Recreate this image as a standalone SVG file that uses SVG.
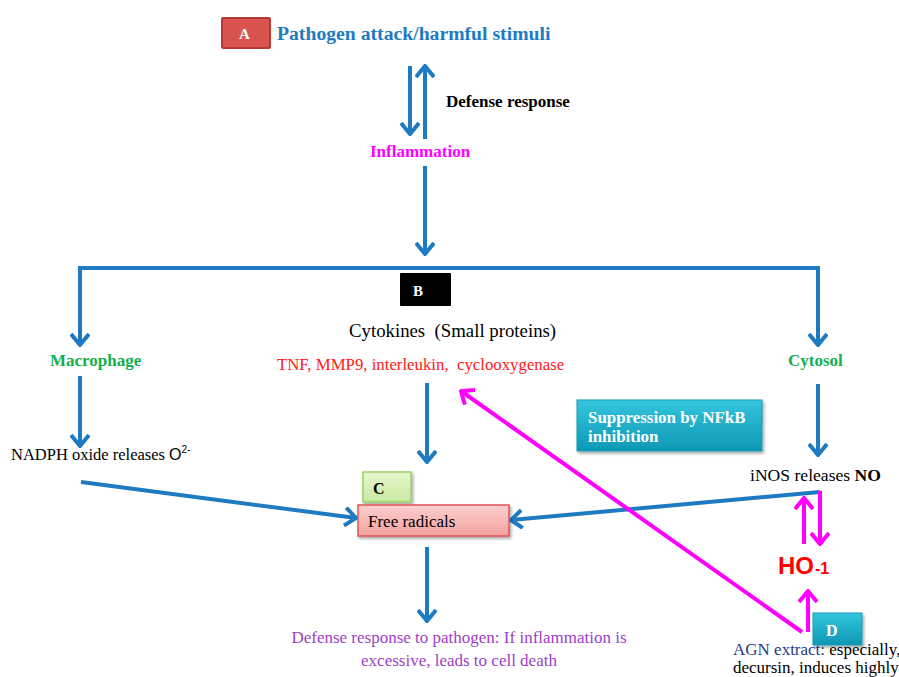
<svg xmlns="http://www.w3.org/2000/svg" width="899" height="677" viewBox="0 0 899 677">
<defs>
<style>
.blue{stroke:#1f7bc1;stroke-width:4;fill:none;}
.mag{stroke:#ff00ff;stroke-width:4;fill:none;}
</style>
<marker id="ab" viewBox="0 0 14 20" refX="12" refY="10" markerWidth="14" markerHeight="20" markerUnits="userSpaceOnUse" orient="auto">
<path d="M1,1 L12,10 L1,19" fill="none" stroke="#1f7bc1" stroke-width="4" stroke-linejoin="miter"/>
</marker>
<marker id="am" viewBox="0 0 14 20" refX="12" refY="10" markerWidth="14" markerHeight="20" markerUnits="userSpaceOnUse" orient="auto">
<path d="M1,1 L12,10 L1,19" fill="none" stroke="#ff00ff" stroke-width="4" stroke-linejoin="miter"/>
</marker>
<linearGradient id="teal" x1="0" y1="0" x2="0" y2="1">
<stop offset="0" stop-color="#35c6de"/>
<stop offset="1" stop-color="#0d97b3"/>
</linearGradient>
<linearGradient id="pink" x1="0" y1="0" x2="0" y2="1">
<stop offset="0" stop-color="#fbd0cf"/>
<stop offset="1" stop-color="#f3a19f"/>
</linearGradient>
<linearGradient id="green" x1="0" y1="0" x2="0" y2="1">
<stop offset="0" stop-color="#e6f6cd"/>
<stop offset="1" stop-color="#c9eaa0"/>
</linearGradient>
<filter id="sh" x="-10%" y="-10%" width="130%" height="140%">
<feDropShadow dx="1.5" dy="2" stdDeviation="1.5" flood-color="#000" flood-opacity="0.35"/>
</filter>
</defs>
<rect width="899" height="677" fill="#fff"/>

<g id="connectors">
<line class="blue" x1="410" y1="66" x2="410" y2="134" marker-end="url(#ab)"/>
<line class="blue" x1="425" y1="139" x2="425" y2="66" marker-end="url(#ab)"/>
<line class="blue" x1="425" y1="166" x2="425" y2="254" marker-end="url(#ab)"/>
<polyline class="blue" points="426,268 80,268 80,345" marker-end="url(#ab)"/>
<polyline class="blue" points="424,268 818,268 818,345" marker-end="url(#ab)"/>
<line class="blue" x1="80" y1="376" x2="80" y2="446" marker-end="url(#ab)"/>
<line class="blue" x1="818" y1="384" x2="818" y2="455" marker-end="url(#ab)"/>
<line class="blue" x1="427" y1="383" x2="427" y2="462" marker-end="url(#ab)"/>
<line class="blue" x1="81" y1="482" x2="356" y2="518" marker-end="url(#ab)"/>
<line class="blue" x1="820" y1="492" x2="511" y2="520" marker-end="url(#ab)"/>
<line class="blue" x1="427" y1="547" x2="427" y2="621" marker-end="url(#ab)"/>
<line class="mag" x1="804" y1="544" x2="804" y2="498" marker-end="url(#am)"/>
<line class="mag" x1="820" y1="491" x2="820" y2="544" marker-end="url(#am)"/>
<line class="mag" x1="808" y1="632" x2="808" y2="591" marker-end="url(#am)"/>
<line class="mag" x1="802" y1="632" x2="461" y2="391" marker-end="url(#am)"/>
</g>

<g font-family="'Liberation Serif', 'Times New Roman', serif">
<g id="nodeA">
<rect x="222" y="18" width="48" height="30" fill="#d9534f" stroke="#b33a37" stroke-width="2" rx="1"/>
<text x="239" y="39" font-weight="bold" font-size="15" fill="#fff">A</text>
<text x="277" y="40" font-weight="bold" font-size="19.7" fill="#1f7bc1">Pathogen attack/harmful stimuli</text>
</g>
<g id="defense">
<text x="446" y="107" font-weight="bold" font-size="17" fill="#000">Defense response</text>
</g>
<g id="inflammation">
<text x="370" y="157" font-weight="bold" font-size="17" fill="#ff00ff">Inflammation</text>
</g>
<g id="nodeB">
<rect x="400" y="273" width="51" height="33" fill="#000" rx="1"/>
<text x="413" y="296" font-weight="bold" font-size="15" fill="#fff">B</text>
<text x="349" y="337" font-size="18.8" fill="#000" xml:space="preserve">Cytokines  (Small proteins)</text>
<text x="277" y="370" font-size="16.8" fill="#ff1a1a" xml:space="preserve">TNF, MMP9, interleukin,  cyclooxygenase</text>
</g>
<g id="macrophage">
<text x="50" y="366" font-weight="bold" font-size="17" fill="#12b04f">Macrophage</text>
</g>
<g id="cytosol">
<text x="788" y="366" font-weight="bold" font-size="17" fill="#12b04f">Cytosol</text>
</g>
<g id="nadph">
<text x="11" y="460" font-size="16.5" fill="#000">NADPH oxide releases <tspan font-family="'Liberation Sans', Arial, sans-serif" font-size="16">O</tspan><tspan font-family="'Liberation Sans', Arial, sans-serif" font-size="10" dy="-7">2-</tspan></text>
</g>
<g id="inos">
<text x="750" y="481" font-size="17.6" fill="#000">iNOS releases <tspan font-weight="bold">NO</tspan></text>
</g>
<g id="suppression">
<rect x="577" y="400" width="185" height="51" fill="url(#teal)" stroke="#1a9bb3" stroke-width="1" filter="url(#sh)"/>
<text x="588" y="423" font-weight="bold" font-size="16.9" fill="#fff">Suppression by NFkB</text>
<text x="588" y="442" font-weight="bold" font-size="16.9" fill="#fff">inhibition</text>
</g>
<g id="nodeC">
<rect x="363" y="472" width="48" height="30" fill="url(#green)" stroke="#9ccf63" stroke-width="1.5" filter="url(#sh)"/>
<text x="373" y="494" font-weight="bold" font-size="16" fill="#000">C</text>
</g>
<g id="freeRadicals">
<rect x="358" y="505" width="151" height="31" fill="url(#pink)" stroke="#e05555" stroke-width="1.5" filter="url(#sh)"/>
<text x="368" y="527" font-size="17" fill="#000">Free radicals</text>
</g>
<g id="ho1">
<text x="778" y="574" font-family="'Liberation Sans', Arial, sans-serif" font-weight="bold" font-size="24" fill="#ff0000">HO<tspan font-size="16" dx="1">-1</tspan></text>
</g>
<g id="nodeD">
<rect x="813" y="613" width="49" height="32" fill="url(#teal)" stroke="#1a9bb3" stroke-width="1" filter="url(#sh)"/>
<text x="826" y="636" font-weight="bold" font-size="16" fill="#fff">D</text>
</g>
<g id="agn">
<text x="733" y="655" font-size="17" fill="#000"><tspan fill="#1f3a8a">AGN extract:</tspan> especially,</text>
<text x="733" y="673" font-size="17" fill="#000">decursin, induces highly</text>
</g>
<g id="outcome">
<text x="459" y="643" font-size="17" fill="#9b3fc6" text-anchor="middle">Defense response to pathogen: If inflammation is</text>
<text x="459" y="666" font-size="17" fill="#9b3fc6" text-anchor="middle">excessive, leads to cell death</text>
</g>
</g>
</svg>
